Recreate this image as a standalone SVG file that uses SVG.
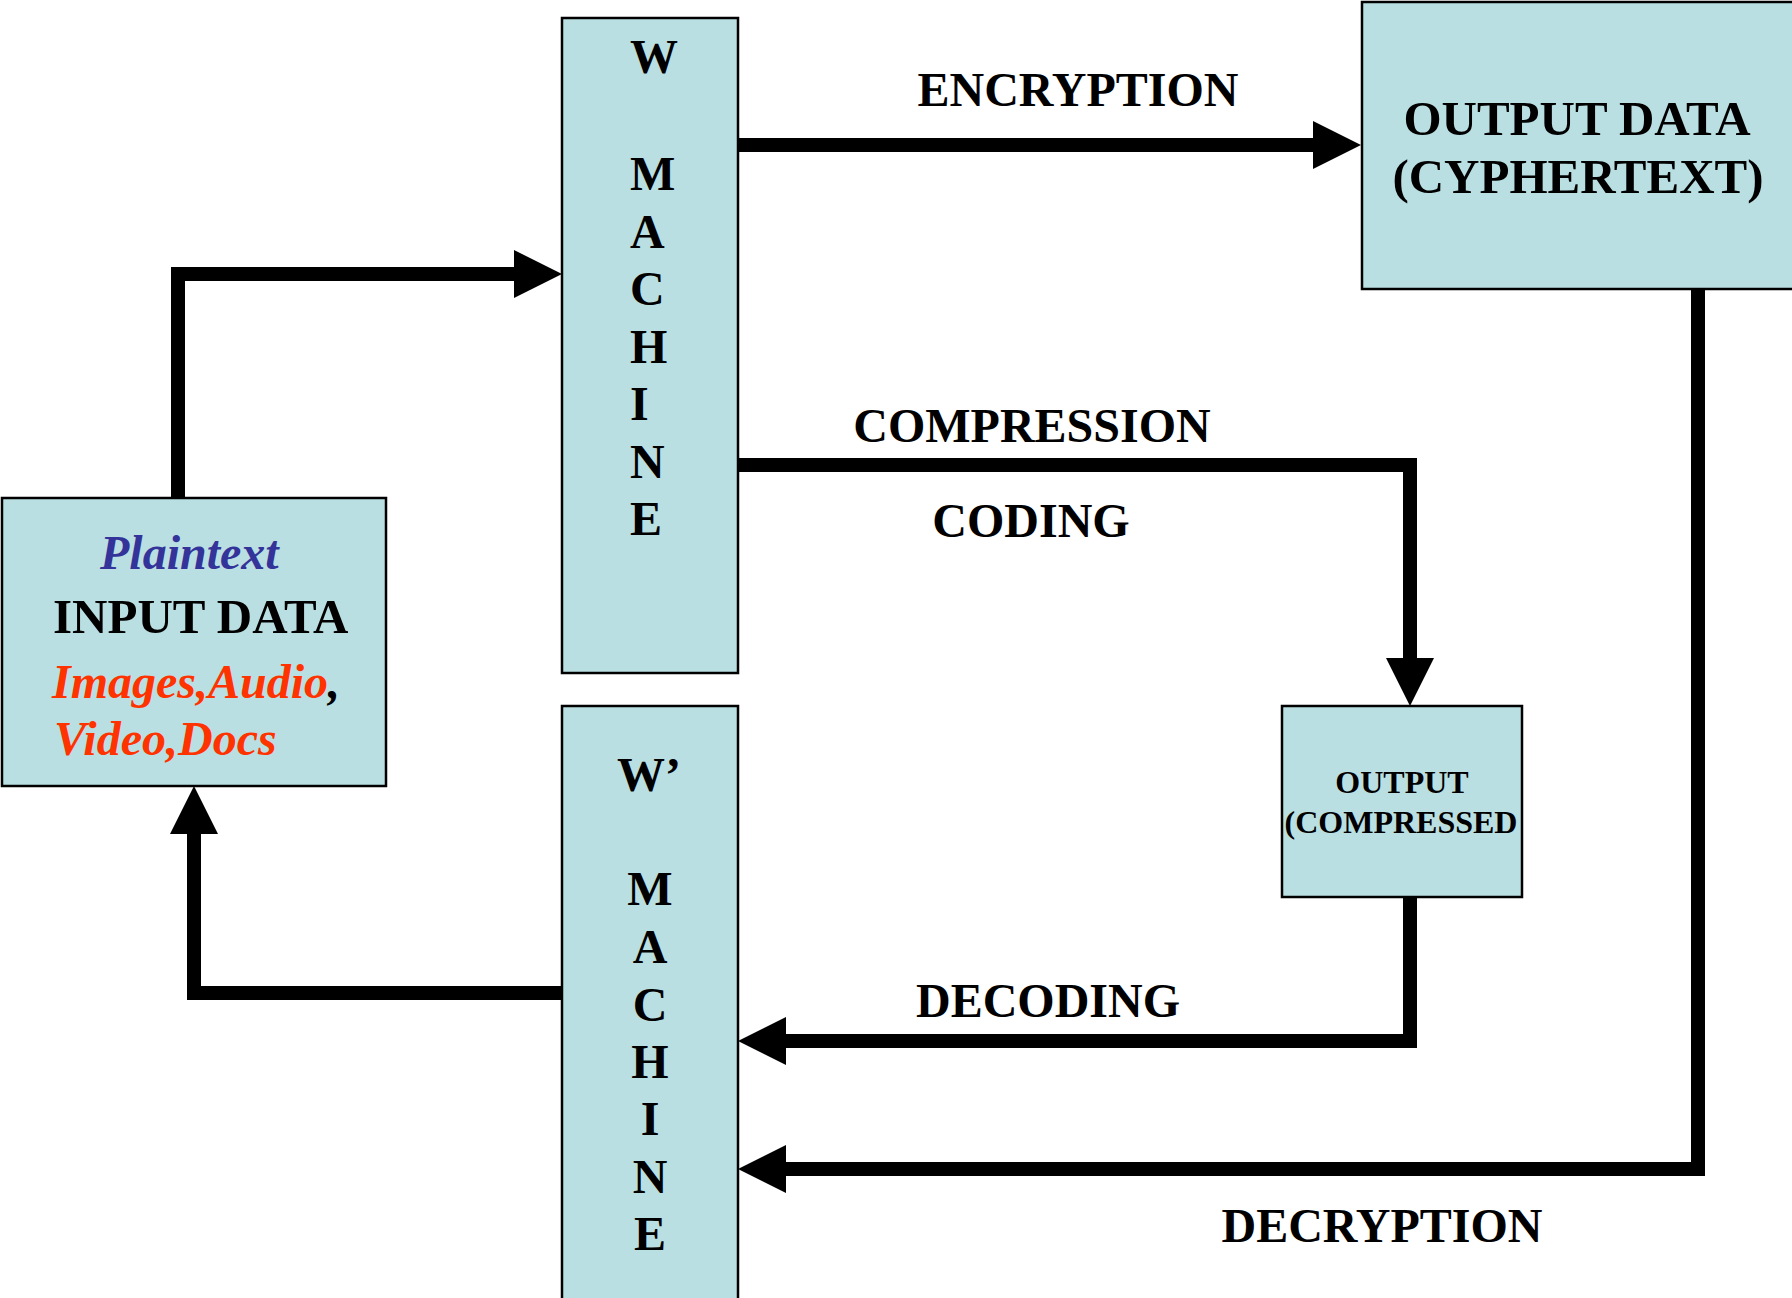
<svg xmlns="http://www.w3.org/2000/svg" width="1792" height="1298" viewBox="0 0 1792 1298">
<style>
.box{fill:#B9DFE3;stroke:#000;stroke-width:2.5}
.t{font-family:"Liberation Serif","Times New Roman",serif;font-weight:bold;fill:#000}
.big{font-size:48px}
.bx{font-size:49px}
.mid{font-size:48px}
.small{font-size:32px}
.it{font-style:italic}
.blue{fill:#333399}
.red{fill:#FF3300}
.conn{fill:none;stroke:#000;stroke-width:14;stroke-linejoin:miter;stroke-linecap:butt}
</style>
<defs>
<marker id="ah" markerUnits="userSpaceOnUse" markerWidth="48" markerHeight="48" refX="0" refY="24" orient="auto" overflow="visible">
<path d="M0,0 L48,24 L0,48 Z" fill="#000"/>
</marker>
</defs>
<rect width="1792" height="1298" fill="#fff"/>

<g id="connectors">
<path class="conn" d="M178,498 V274 H514" marker-end="url(#ah)"/>
<path class="conn" d="M738,145 H1313" marker-end="url(#ah)"/>
<path class="conn" d="M738,465 H1410 V658" marker-end="url(#ah)"/>
<path class="conn" d="M1410,897 V1041 H786" marker-end="url(#ah)"/>
<path class="conn" d="M1698,289 V1169 H786" marker-end="url(#ah)"/>
<path class="conn" d="M562,993 H194 V834" marker-end="url(#ah)"/>
</g>

<g id="input">
<rect class="box" x="2" y="498" width="384" height="288"/>
<text class="t big it blue" x="100" y="569">Plaintext</text>
<text class="t bx" x="53" y="633">INPUT DATA</text>
<text class="t big it" x="52" y="698"><tspan class="red">Images,Audio</tspan>,</text>
<text class="t big it red" x="54" y="755">Video,Docs</text>
</g>

<g id="w-machine">
<rect class="box" x="562" y="18" width="176" height="655"/>
<text class="t mid" x="630" y="73">W</text>
<text class="t mid" x="630" y="190">M</text>
<text class="t mid" x="630" y="248">A</text>
<text class="t mid" x="630" y="305">C</text>
<text class="t mid" x="630" y="363">H</text>
<text class="t mid" x="630" y="420">I</text>
<text class="t mid" x="630" y="478">N</text>
<text class="t mid" x="630" y="535">E</text>
</g>

<g id="output-data">
<rect class="box" x="1362" y="2" width="440" height="287"/>
<text class="t bx" x="1577" y="135" text-anchor="middle">OUTPUT DATA</text>
<text class="t bx" x="1578" y="193" text-anchor="middle">(CYPHERTEXT)</text>
</g>

<g id="output-compressed">
<rect class="box" x="1282" y="706" width="240" height="191"/>
<text class="t small" x="1402" y="793" text-anchor="middle">OUTPUT</text>
<text class="t small" x="1401" y="833" text-anchor="middle">(COMPRESSED</text>
</g>

<g id="w-prime-machine">
<rect class="box" x="562" y="706" width="176" height="610"/>
<text class="t mid" x="649" y="791" text-anchor="middle">W’</text>
<text class="t mid" x="650" y="905" text-anchor="middle">M</text>
<text class="t mid" x="650" y="963" text-anchor="middle">A</text>
<text class="t mid" x="650" y="1021" text-anchor="middle">C</text>
<text class="t mid" x="650" y="1078" text-anchor="middle">H</text>
<text class="t mid" x="650" y="1135" text-anchor="middle">I</text>
<text class="t mid" x="650" y="1193" text-anchor="middle">N</text>
<text class="t mid" x="650" y="1250" text-anchor="middle">E</text>
</g>

<g id="labels">
<text class="t big" x="1078" y="106" text-anchor="middle">ENCRYPTION</text>
<text class="t big" x="1032" y="442" text-anchor="middle">COMPRESSION</text>
<text class="t big" x="1031" y="537" text-anchor="middle">CODING</text>
<text class="t big" x="1048" y="1017" text-anchor="middle">DECODING</text>
<text class="t big" x="1382" y="1242" text-anchor="middle">DECRYPTION</text>
</g>
</svg>
